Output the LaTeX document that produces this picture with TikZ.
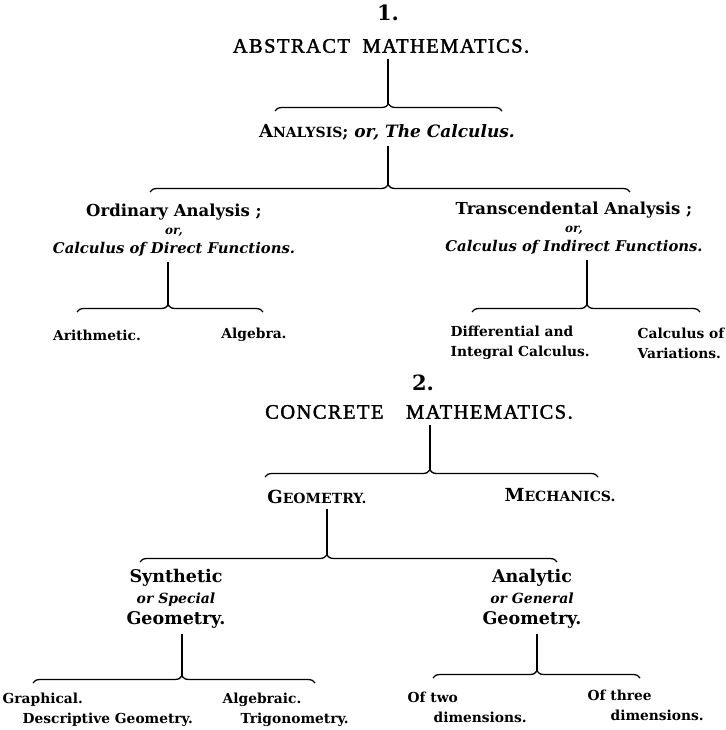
\documentclass[tikz,border=0pt]{standalone}
\usepackage{fontspec}
\newfontfamily\clar{DejaVu Serif}
\newfontfamily\heading[LetterSpace=7,FakeBold=1.8]{Liberation Serif}
\usetikzlibrary{decorations.pathreplacing}

\begin{document}
\begin{tikzpicture}[x=1pt,y=-1pt,line width=1.3pt,
  brc/.style={decorate,decoration={brace,amplitude=7pt,aspect=#1}},brc/.default=0.5]
  \tikzstyle{every node}=[inner sep=0pt,align=center]
  \tikzstyle{num}=[font=\clar\bfseries\fontsize{21}{21}\selectfont]
  \tikzstyle{head}=[font=\heading\fontsize{20.5}{20}\selectfont]
  \tikzstyle{lab}=[font=\clar\bfseries\fontsize{16.5}{18.5}\selectfont]
  \tikzstyle{big}=[font=\clar\bfseries\fontsize{17.5}{21}\selectfont]
  \tikzstyle{sml}=[font=\clar\bfseries\fontsize{13.8}{20}\selectfont,align=left]

  \useasboundingbox (0,0) rectangle (725,730);

  % 1. abstract
  \node[num]  (N1) at (388,13) {1.};
  \node[head] (AM) at (381,46) {ABSTRACT\hspace{6pt} MATHEMATICS.};
  \node[lab]  (An) at (387,132) {{\fontsize{18}{18}\selectfont A}{\fontsize{14}{14}\selectfont NALYSIS}; {\fontsize{17}{15}\selectfont\itshape or, The Calculus.}};
  \node[lab]  (OA) at (174,230) {Ordinary Analysis ;\\{\fontsize{12}{12}\selectfont\itshape or,}\\{\fontsize{14.8}{15}\selectfont\itshape Calculus of Direct Functions.}};
  \node[lab]  (TA) at (574,228) {Transcendental Analysis ;\\{\fontsize{12}{12}\selectfont\itshape or,}\\{\fontsize{14.8}{15}\selectfont\itshape Calculus of Indirect Functions.}};
  \node[sml]  (Ar) at (97,335) {Arithmetic.};
  \node[sml]  (Al) at (254,335) {Algebra.};
  \node[sml,anchor=west] (DI) at (450,343) {Differential and\\Integral Calculus.};
  \node[sml,anchor=west] (CV) at (637,343) {Calculus of\\Variations.};

  \coordinate (t1) at (388,104); \coordinate (l1) at (275,111); \coordinate (r1) at (502,111);
  \coordinate (t2) at (388,185); \coordinate (l2) at (150,192); \coordinate (r2) at (630,192);
  \coordinate (t3) at (168,305); \coordinate (l3) at (77,312);  \coordinate (r3) at (263,312);
  \coordinate (t4) at (587,305); \coordinate (l4) at (472,312); \coordinate (r4) at (700,312);

  \draw[shorten <=5pt] (AM.south -| t1) -- (t1);
  \draw[brc] (l1) -- (r1);
  \draw[shorten <=5pt] (An.south -| t2) -- (t2);
  \draw[brc=0.496] (l2) -- (r2);
  \draw[shorten <=5pt] (OA.south -| t3) -- (t3);
  \draw[brc=0.49] (l3) -- (r3);
  \draw[shorten <=5pt] (TA.south -| t4) -- (t4);
  \draw[brc=0.504] (l4) -- (r4);

  % 2. concrete
  \node[num]  (N2) at (423,383) {2.};
  \node[head] (CM) at (419,412) {CONCRETE\hspace{16pt} MATHEMATICS.};
  \node[lab]  (Ge) at (317,497) {{\fontsize{18}{18}\selectfont G}{\fontsize{14}{14}\selectfont EOMETRY.}};
  \node[lab]  (Me) at (560,495) {{\fontsize{18}{18}\selectfont M}{\fontsize{14}{14}\selectfont ECHANICS.}};
  \node[big]  (SG) at (176,599) {Synthetic\\{\fontsize{14}{14}\selectfont\itshape or Special}\\Geometry.};
  \node[big]  (AG) at (532,599) {Analytic\\{\fontsize{14}{14}\selectfont\itshape or General}\\Geometry.};
  \node[sml,anchor=west] (GD) at (2,710) {Graphical.\\\hspace*{20pt}Descriptive Geometry.};
  \node[sml,anchor=west] (AT) at (222,710) {Algebraic.\\\hspace*{18pt}Trigonometry.};
  \node[sml,anchor=west] (Two) at (407,707) {Of two\\\hspace*{26pt}dimensions.};
  \node[sml,anchor=west] (Three) at (587,705) {Of three\\\hspace*{23pt}dimensions.};

  \coordinate (t5) at (430,470); \coordinate (l5) at (265,477); \coordinate (r5) at (598,477);
  \coordinate (t6) at (327,555); \coordinate (l6) at (140,562); \coordinate (r6) at (557,562);
  \coordinate (t7) at (182,676); \coordinate (l7) at (33,683);  \coordinate (r7) at (315,683);
  \coordinate (t8) at (537,671); \coordinate (l8) at (433,678); \coordinate (r8) at (640,678);

  \draw[shorten <=5pt] (CM.south -| t5) -- (t5);
  \draw[brc=0.495] (l5) -- (r5);
  \draw[shorten <=5pt] (Ge.south -| t6) -- (t6);
  \draw[brc=0.448] (l6) -- (r6);
  \draw[shorten <=5pt] (SG.south -| t7) -- (t7);
  \draw[brc=0.528] (l7) -- (r7);
  \draw[shorten <=5pt] (AG.south -| t8) -- (t8);
  \draw[brc=0.502] (l8) -- (r8);
\end{tikzpicture}
\end{document}
